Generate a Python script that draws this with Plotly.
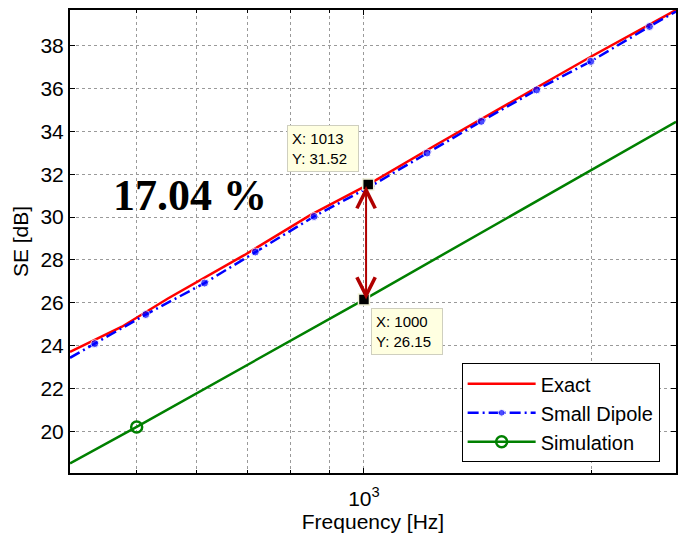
import numpy as np
import plotly.graph_objects as go

# Shielding effectiveness vs. frequency
exact_freq = [408, 478, 550, 694, 850, 1013, 1250, 1600, 2000, 2590]
exact_se = [23.7, 24.88, 26.2, 28.22, 30.1, 31.52, 33.4, 35.55, 37.5, 39.67]

dipole_freq = [408, 440, 514, 615, 718, 859, 1022, 1212, 1430, 1693, 1997, 2389, 2590]
dipole_se = [23.43, 24.09, 25.45, 26.92, 28.37, 30.03, 31.45, 32.99, 34.47, 35.94, 37.27, 38.90, 39.60]
dipole_marker = [0, 8, 8, 8, 8, 8, 8, 8, 8, 8, 8, 8, 0]

sim_freq = [408, 500, 1000, 2590]
sim_se = [18.5, 20.2, 26.15, 34.45]
sim_meas_freq = [500]
sim_meas_se = [20.2]

# Data tips
tip_exact = (1013, 31.52)
tip_sim = (1000, 26.15)

x_major = [1000]
x_major_text = ["10<sup>3</sup>"]
x_minor = [500, 600, 700, 800, 900, 2000]
y_ticks = list(range(20, 40, 2))

FONT = "Liberation Sans, Arial, sans-serif"
FS = 21

fig = go.Figure()

fig.add_trace(go.Scatter(
    x=exact_freq, y=exact_se, mode="lines", name="Exact",
    line=dict(color="#FF0000", width=2.5)))

fig.add_trace(go.Scatter(
    x=dipole_freq, y=dipole_se, mode="lines+markers", name="Small Dipole",
    line=dict(color="#0000FF", width=2.5, dash="11px,4px,2px,4px"),
    marker=dict(color="#0000FF", size=dipole_marker, symbol="circle")))

fig.add_trace(go.Scatter(
    x=sim_freq, y=sim_se, mode="lines", showlegend=False,
    line=dict(color="#008000", width=2.5)))
fig.add_trace(go.Scatter(
    x=sim_meas_freq, y=sim_meas_se, mode="lines+markers", name="Simulation",
    line=dict(color="#008000", width=2.5),
    marker=dict(symbol="circle-open", size=11, color="#008000",
                line=dict(width=2.5, color="#008000"))))

# data tip squares
fig.add_trace(go.Scatter(
    x=[tip_exact[0], tip_sim[0]], y=[tip_exact[1], tip_sim[1]],
    mode="markers", showlegend=False,
    marker=dict(symbol="square", size=11, color="black",
                line=dict(width=1.5, color="#F2F2D8"))))

# double-headed arrow between the two tips
arrow_x = np.log10(np.sqrt(tip_exact[0] * tip_sim[0]))
fig.add_annotation(
    x=arrow_x, y=tip_sim[1], ax=arrow_x, ay=tip_exact[1],
    xref="x", yref="y", axref="x", ayref="y", text="",
    showarrow=True, arrowhead=5, startarrowhead=5, arrowside="end+start",
    arrowsize=1.8, startarrowsize=1.8, arrowwidth=2, arrowcolor="#B00000",
    standoff=0, startstandoff=0)

tip_style = dict(showarrow=False, align="left", bgcolor="#FFFFE1",
                 bordercolor="#CFCFBF", borderwidth=1, borderpad=4, width=62,
                 font=dict(family=FONT, size=15, color="black"))
fig.add_annotation(
    x=np.log10(tip_exact[0]), y=tip_exact[1], xref="x", yref="y",
    text=f"X: {tip_exact[0]}<br>Y: {tip_exact[1]:.2f}",
    xanchor="right", yanchor="bottom", xshift=-9, yshift=13, **tip_style)
fig.add_annotation(
    x=np.log10(tip_sim[0]), y=tip_sim[1], xref="x", yref="y",
    text=f"X: {tip_sim[0]}<br>Y: {tip_sim[1]:.2f}",
    xanchor="left", yanchor="top", xshift=7, yshift=-8, **tip_style)

# relative difference
pct = (tip_exact[1] - tip_sim[1]) / tip_exact[1] * 100
fig.add_annotation(
    x=np.log10(588), y=31.0, xref="x", yref="y", showarrow=False,
    text=f"<b>{pct:.2f} %</b>",
    font=dict(family="Liberation Serif, Times New Roman, serif", size=44, color="black"))

axis_common = dict(
    showline=True, linecolor="black", linewidth=2, mirror="ticks",
    ticks="inside", ticklen=5, tickcolor="black", tickwidth=1,
    showgrid=True, gridcolor="#9A9A9A", gridwidth=1, griddash="dot",
    zeroline=False, tickfont=dict(family=FONT, size=FS, color="black"),
)

fig.update_xaxes(
    type="log", range=[np.log10(408), np.log10(2590)],
    tickmode="array", tickvals=x_major, ticktext=x_major_text,
    ticklabelstandoff=6,
    minor=dict(tickmode="array", tickvals=x_minor, ticks="inside", ticklen=3,
               tickcolor="black", showgrid=True, gridcolor="#9A9A9A",
               gridwidth=1, griddash="dot"),
    title=dict(text="Frequency [Hz]", font=dict(family=FONT, size=FS, color="black"), standoff=5),
    **axis_common)
fig.update_yaxes(
    range=[18.05, 39.67], tickmode="array", tickvals=y_ticks,
    title=dict(text="SE [dB]", font=dict(family=FONT, size=FS, color="black"), standoff=6),
    **axis_common)

fig.update_layout(
    width=683, height=540,
    margin=dict(l=70, r=5, t=10, b=67),
    paper_bgcolor="white", plot_bgcolor="white",
    font=dict(family=FONT, size=FS, color="black"),
    showlegend=True,
    legend=dict(
        x=0.973, y=0.237, xanchor="right", yanchor="top",
        bgcolor="white", bordercolor="black", borderwidth=1,
        font=dict(family=FONT, size=20, color="black"),
        tracegroupgap=0, itemwidth=68),
)

fig.write_html("out.html")
